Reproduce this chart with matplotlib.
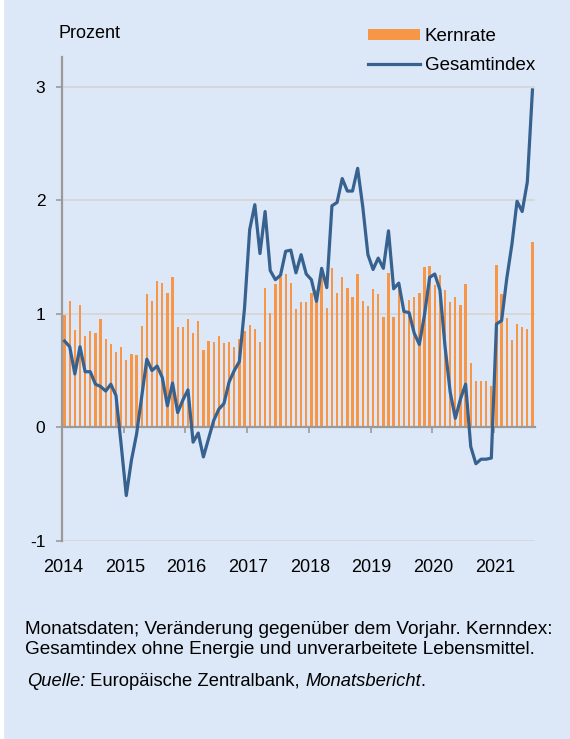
import matplotlib
matplotlib.use('Agg')
import matplotlib.pyplot as plt
import matplotlib.transforms as mtrans
from matplotlib.patches import Rectangle, Patch
from matplotlib.lines import Line2D
import numpy as np

# Monatsdaten Jan 2014 - Aug 2021, Veraenderung ggue. Vorjahr in %
kernrate = [0.99, 1.11, 0.86, 1.08, 0.80, 0.85, 0.83, 0.95, 0.78, 0.73, 0.66, 0.71,   # 2014
            0.59, 0.65, 0.64, 0.89, 1.17, 1.11, 1.29, 1.27, 1.18, 1.32, 0.88, 0.88,   # 2015
            0.95, 0.83, 0.94, 0.68, 0.76, 0.75, 0.80, 0.74, 0.75, 0.71, 0.78, 0.85,   # 2016
            0.90, 0.87, 0.75, 1.23, 1.01, 1.26, 1.32, 1.35, 1.27, 1.04, 1.10, 1.10,   # 2017
            1.18, 1.21, 1.32, 1.05, 1.40, 1.18, 1.32, 1.23, 1.15, 1.35, 1.11, 1.07,   # 2018
            1.22, 1.17, 0.97, 1.36, 0.97, 1.22, 1.05, 1.12, 1.15, 1.18, 1.41, 1.42,   # 2019
            1.25, 1.34, 1.21, 1.10, 1.15, 1.08, 1.26, 0.57, 0.41, 0.41, 0.41, 0.36,   # 2020
            1.43, 1.17, 0.96, 0.77, 0.91, 0.88, 0.87, 1.63]                           # 2021

gesamtindex = [0.76, 0.71, 0.47, 0.71, 0.49, 0.49, 0.38, 0.36, 0.32, 0.38, 0.28, -0.15,
               -0.60, -0.29, -0.06, 0.27, 0.60, 0.50, 0.54, 0.44, 0.19, 0.39, 0.13, 0.24,
               0.33, -0.13, -0.05, -0.26, -0.10, 0.06, 0.16, 0.21, 0.40, 0.50, 0.58, 1.05,
               1.74, 1.96, 1.53, 1.90, 1.38, 1.30, 1.34, 1.55, 1.56, 1.36, 1.52, 1.35,
               1.30, 1.11, 1.40, 1.23, 1.95, 1.98, 2.19, 2.08, 2.08, 2.28, 1.94, 1.52,
               1.39, 1.49, 1.40, 1.73, 1.22, 1.27, 1.02, 1.01, 0.83, 0.73, 0.99, 1.32,
               1.35, 1.21, 0.71, 0.31, 0.08, 0.25, 0.38, -0.17, -0.32, -0.28, -0.28, -0.27,
               0.91, 0.94, 1.31, 1.61, 1.99, 1.90, 2.16, 2.97]

jahre = [2014, 2015, 2016, 2017, 2018, 2019, 2020, 2021]
y_ticks = [-1, 0, 1, 2, 3]

BG = '#dce8f7'
ORANGE = '#f79646'
BLUE = '#37618f'
GRID = '#d6d6d6'
AXIS = '#9a9a9a'

plt.rcParams['font.family'] = ['Liberation Sans', 'DejaVu Sans']

W, H = 570, 739
fig = plt.figure(figsize=(W / 100, H / 100), dpi=100, facecolor=BG)
fig.patches.append(Rectangle((0, 0), 3 / W, 1, transform=fig.transFigure,
                             color='white', zorder=-10))

def px(x, y):
    return x / W, 1 - y / H

left, right, top, bottom = 62, 535, 57, 541
ax = fig.add_axes([left / W, 1 - bottom / H, (right - left) / W, (bottom - top) / H])
ax.set_facecolor(BG)

x = 2014 + (np.arange(len(gesamtindex)) + 0.5) / 12
ax.bar(x, kernrate, width=0.45 / 12, color=ORANGE, zorder=2, linewidth=0)
ax.plot(x, gesamtindex, color=BLUE, lw=2.3, zorder=3, solid_joinstyle='round')

ax.set_xlim(2014, 2014 + (right - left) / 61.7)
ax.set_ylim(-1, (427 - top) / 113.5)
ax.set_yticks(y_ticks)
ax.set_yticklabels([str(v) for v in y_ticks])
ax.set_xticks(jahre)
ax.set_xticklabels([])
ax.yaxis.grid(True, color=GRID, lw=1.3, zorder=0)
ax.set_axisbelow(True)

for s in ['top', 'right']:
    ax.spines[s].set_visible(False)
ax.spines['bottom'].set_position(('data', 0))
ax.spines['bottom'].set_color(AXIS)
ax.spines['bottom'].set_linewidth(1.6)
ax.spines['left'].set_color(AXIS)
ax.spines['left'].set_linewidth(1.6)
ax.spines['bottom'].set_zorder(2.5)

ax.tick_params(axis='y', direction='out', length=4, width=1.2, color=AXIS,
               labelsize=12.5, pad=8)
ax.tick_params(axis='x', direction='out', length=4, width=1.2, color=AXIS)

trans = mtrans.blended_transform_factory(ax.transData, ax.transAxes)
ylab = -(567 - bottom) / (bottom - top)
for j in jahre:
    ax.text(j + 0.02, ylab, str(j), transform=trans, ha='center', va='center',
            fontsize=13, family=['Liberation Sans Narrow', 'Liberation Sans'])

fig.text(*px(59, 34), 'Prozent', fontsize=13, ha='left', va='center')

handles = [Patch(facecolor=ORANGE, edgecolor='none'),
           Line2D([0], [0], color=BLUE, lw=2.3)]
fig.legend(handles, ['Kernrate', 'Gesamtindex'], loc='upper left',
           bbox_to_anchor=px(368, 28), frameon=False, fontsize=13.5,
           handlelength=2.75, handleheight=0.5, handletextpad=0.28,
           labelspacing=0.62, borderpad=0, borderaxespad=0)

fs = 13.7
fig.text(*px(25, 629), 'Monatsdaten; Veränderung gegenüber dem Vorjahr. Kernndex:',
         fontsize=fs, ha='left', va='center')
fig.text(*px(25, 650), 'Gesamtindex ohne Energie und unverarbeitete Lebensmittel.',
         fontsize=fs, ha='left', va='center')

# Quellenzeile mit gemischtem Schriftschnitt
renderer = fig.canvas.get_renderer()
xq = 27 / W
for part, style in [('Quelle:', 'italic'), (' Europäische Zentralbank, ', 'normal'),
                    ('Monatsbericht', 'italic'), ('.', 'normal')]:
    t = fig.text(xq, px(0, 681)[1], part, fontsize=13.2, style=style,
                 ha='left', va='center')
    bb = t.get_window_extent(renderer)
    xq += bb.width / W

fig.savefig('out.png', dpi=100, facecolor=BG)
